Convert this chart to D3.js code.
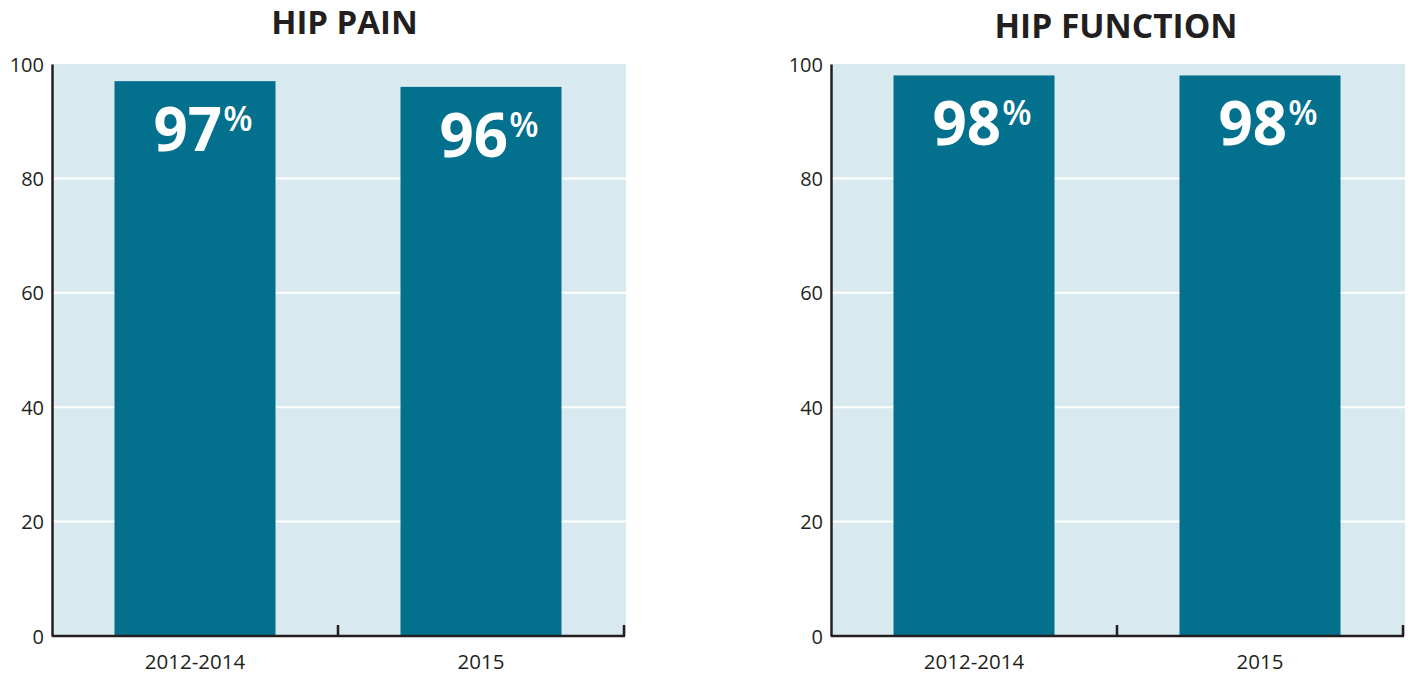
<!DOCTYPE html>
<html>
<head>
<meta charset="utf-8">
<script src="https://cdn.jsdelivr.net/npm/d3@7"></script>
<style>
	body { margin: 0; background: #fff; }
	svg text { font-family: "Open Sans", "Noto Sans", sans-serif; fill: #231f20; }
</style>
</head>
<body>
<svg id="chart" width="1409" height="679"></svg>
<script>
// chart data
var categories = ['2012-2014', '2015'];
var painValues = [97, 96];
var functionValues = [98, 98];
var titles = ['HIP PAIN', 'HIP FUNCTION'];
var yTicks = [0, 20, 40, 60, 80, 100];

var svg = d3.select('#chart');
var barColor = '#03708e';
var bgColor = '#d9e9f0';
var axisColor = '#231f20';

// draw one panel
function drawPanel(left, title, values, titleX, titleY, titleSize) {
	var width = 574, top = 64, bottom = 636;
	var g = svg.append('g').attr('transform', 'translate(' + left + ',0)');

	var x = d3.scaleBand()
		.domain(categories)
		.range([0, width - 2])
		.paddingInner(0)
		.paddingOuter(0);
	var y = d3.scaleLinear().domain([0, 100]).range([bottom, top]);

	g.append('rect')
		.attr('x', 0).attr('y', top)
		.attr('width', width).attr('height', bottom - top)
		.attr('fill', bgColor);

	// grid lines
	g.selectAll('.grid')
		.data(yTicks.filter(function (d) { return d > 0 && d < 100; }))
		.enter().append('line')
		.attr('x1', 0).attr('x2', width)
		.attr('y1', function (d) { return y(d); })
		.attr('y2', function (d) { return y(d); })
		.attr('stroke', '#fff').attr('stroke-width', 2);

	var barW = 161;
	g.selectAll('.bar')
		.data(values)
		.enter().append('rect')
		.attr('x', function (d, i) { return x(categories[i]) + x.bandwidth() / 2 - barW / 2; })
		.attr('y', function (d) { return y(d); })
		.attr('width', barW)
		.attr('height', function (d) { return bottom - y(d); })
		.attr('fill', barColor);

	// value labels
	var lab = g.selectAll('.val')
		.data(values)
		.enter().append('text')
		.attr('x', function (d, i) { return x(categories[i]) + x.bandwidth() / 2 + 8; })
		.attr('y', function (d) { return y(d) + 70; })
		.attr('text-anchor', 'middle')
		.style('fill', '#fff')
		.style('font-weight', 'bold')
		.style('font-size', '60px');
	lab.append('tspan').text(function (d) { return d; });
	lab.append('tspan')
		.attr('dy', -20)
		.attr('dx', 1)
		.style('font-size', '34px')
		.style('font-weight', '600')
		.text('%');

	// y axis
	var yAxis = d3.axisLeft(y).tickValues(yTicks).tickSize(0).tickPadding(8);
	var ya = g.append('g').call(yAxis);
	ya.select('.domain').attr('stroke', axisColor).attr('stroke-width', 2.5);
	ya.selectAll('text').style('font-size', '20px').style('fill', axisColor).attr('dy', '0.35em');

	// x axis
	var xa = g.append('g').attr('transform', 'translate(0,' + bottom + ')')
		.call(d3.axisBottom(x).tickSize(0).tickPadding(18));
	xa.select('.domain').remove();
	xa.append('line').attr('x1', 0).attr('x2', width - 1).attr('y1', 0).attr('y2', 0)
		.attr('stroke', axisColor).attr('stroke-width', 2.5);
	xa.selectAll('.sep')
		.data(categories)
		.enter().append('line')
		.attr('x1', function (d) { return x(d) + x.bandwidth(); })
		.attr('x2', function (d) { return x(d) + x.bandwidth(); })
		.attr('y1', 0).attr('y2', -11)
		.attr('stroke', axisColor).attr('stroke-width', 2.5);
	xa.selectAll('text').style('font-size', '20.5px').style('fill', axisColor).attr('dy', '0.71em');

	svg.append('text')
		.attr('x', titleX)
		.attr('y', titleY)
		.attr('text-anchor', 'middle')
		.style('font-weight', 'bold')
		.style('font-size', titleSize + 'px')
		.text(title);
}

drawPanel(52, titles[0], painValues, 344.5, 34, 33);
drawPanel(831, titles[1], functionValues, 1116, 38, 33.5);
</script>
</body>
</html>
